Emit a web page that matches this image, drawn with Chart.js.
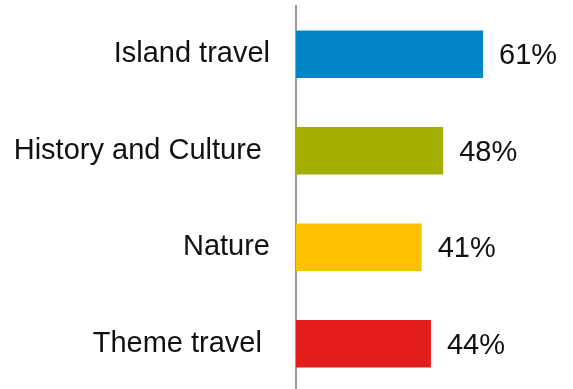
<!DOCTYPE html>
<html>
<head>
<meta charset="utf-8">
<script src="https://cdn.jsdelivr.net/npm/chart.js@4"></script>
<style>
  html, body { margin: 0; padding: 0; background: #fff; overflow: hidden; }
  #wrap { position: absolute; left: 0; top: 0; width: 573px; height: 392px; }
</style>
</head>
<body>
<div id="wrap"><canvas id="travelChart"></canvas></div>
<script>
// Travel interests (share of respondents, %)
const categories = ["Island travel", "History and Culture ", "Nature", "Theme travel "];
const shares = [61, 48, 41, 44];
const barColors = ["#0086c8", "#a3af00", "#ffc000", "#e31d1b"];

const FONT = "'Liberation Sans', Arial, sans-serif";

// writes "NN%" to the right of each bar
const valueLabels = {
  id: "valueLabels",
  afterDatasetsDraw(chart) {
    const ctx = chart.ctx;
    const meta = chart.getDatasetMeta(0);
    ctx.save();
    ctx.font = "29px " + FONT;
    ctx.fillStyle = "#111";
    ctx.textAlign = "left";
    ctx.textBaseline = "middle";
    meta.data.forEach((bar, i) => {
      ctx.fillText(shares[i] + "%", bar.x + 16, bar.y + 2);
    });
    ctx.restore();
  }
};

new Chart(document.getElementById("travelChart"), {
  type: "bar",
  data: {
    labels: categories,
    datasets: [{
      data: shares,
      backgroundColor: barColors,
      borderWidth: 0,
      barPercentage: 0.49,
      categoryPercentage: 1
    }]
  },
  options: {
    indexAxis: "y",
    responsive: true,
    maintainAspectRatio: false,
    animation: false,
    layout: { padding: { top: 6, right: 1, left: 0, bottom: 0 } },
    scales: {
      x: {
        display: false,
        min: 0,
        max: 90
      },
      y: {
        grid: { display: false, drawTicks: false },
        border: { display: true, color: "#9a9a9a", width: 2 },
        ticks: {
          color: "#111",
          padding: 26,
          font: { family: FONT, size: 29 }
        },
        // fixed axis width, and no extra room above/below for the labels
        afterFit: s => {
          s.width = 296;
          s.paddingTop = 0;
          s.paddingBottom = 0;
        }
      }
    },
    plugins: {
      legend: { display: false },
      tooltip: { enabled: false }
    }
  },
  plugins: [valueLabels]
});
</script>
</body>
</html>
